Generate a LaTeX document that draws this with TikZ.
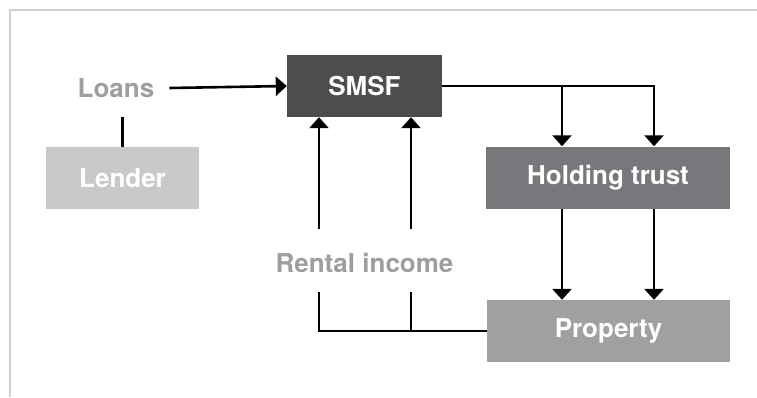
\documentclass[tikz,border=0pt]{standalone}
\usepackage{fontspec}
\setmainfont{TeX Gyre Heros}
\usetikzlibrary{arrows.meta}
\definecolor{smsfgray}{HTML}{4D4D4F}
\definecolor{trustgray}{HTML}{77787B}
\definecolor{propgray}{HTML}{A0A0A3}
\definecolor{lendgray}{HTML}{C8C9CA}
\definecolor{labelgray}{HTML}{9D9EA0}
\definecolor{framegray}{HTML}{CFCFCF}
\begin{document}
\begin{tikzpicture}[x=1pt,y=-1pt,
  entity/.style={draw=none,text=white,font=\fontsize{26}{30}\selectfont\bfseries,minimum height=62pt,inner sep=0pt},
  flowlabel/.style={text=labelgray,font=\fontsize{26}{30}\selectfont\bfseries,inner sep=0pt},
  arr/.style={-{Triangle[width=19pt,length=11pt]}},
  flow/.style={line width=2.6pt}]
\pgfmathsetmacro{\branch}{46}
\useasboundingbox (0,0) rectangle (757,397);
\draw[framegray,line width=2pt] (757,9.5) -- (9.5,9.5) -- (9.5,397);
\node[entity,fill=smsfgray,minimum width=155pt] (smsf) at (364.5,86) {SMSF};
\node[entity,fill=lendgray,minimum width=153pt] (lender) at (122.5,178) {Lender};
\node[entity,fill=trustgray,minimum width=244pt] (holding) at (608,177.5) {Holding trust};
\node[entity,fill=propgray,minimum width=243pt] (property) at (608.5,331) {Property};
\node[flowlabel] (loans) at (116,88) {Loans};
\node[flowlabel] (rental) at (364.5,263) {Rental income};
\coordinate (hl) at ([xshift=-\branch pt]holding.north);
\coordinate (hr) at ([xshift=\branch pt]holding.north);
\coordinate (ra) at (319,229);
\coordinate (rb) at (411,229);
\coordinate (rc) at (319,292);
\coordinate (rd) at (411,292);
\draw[flow,arr] ([xshift=15pt]loans.east) -- (smsf.west);
\draw[flow] (lender.north) -- (lender.north |- smsf.south);
\draw[flow,arr] (smsf.east) -| (hr);
\draw[flow,arr] (smsf.east -| hl) -- (hl);
\draw[flow,arr] (holding.south -| hl) -- (property.north -| hl);
\draw[flow,arr] (holding.south -| hr) -- (property.north -| hr);
\draw[flow,arr] (ra) -- (ra |- smsf.south);
\draw[flow,arr] (rb) -- (rb |- smsf.south);
\draw[flow] (property.west) -| (rc);
\draw[flow] (property.west -| rd) -- (rd);
\end{tikzpicture}
\end{document}
